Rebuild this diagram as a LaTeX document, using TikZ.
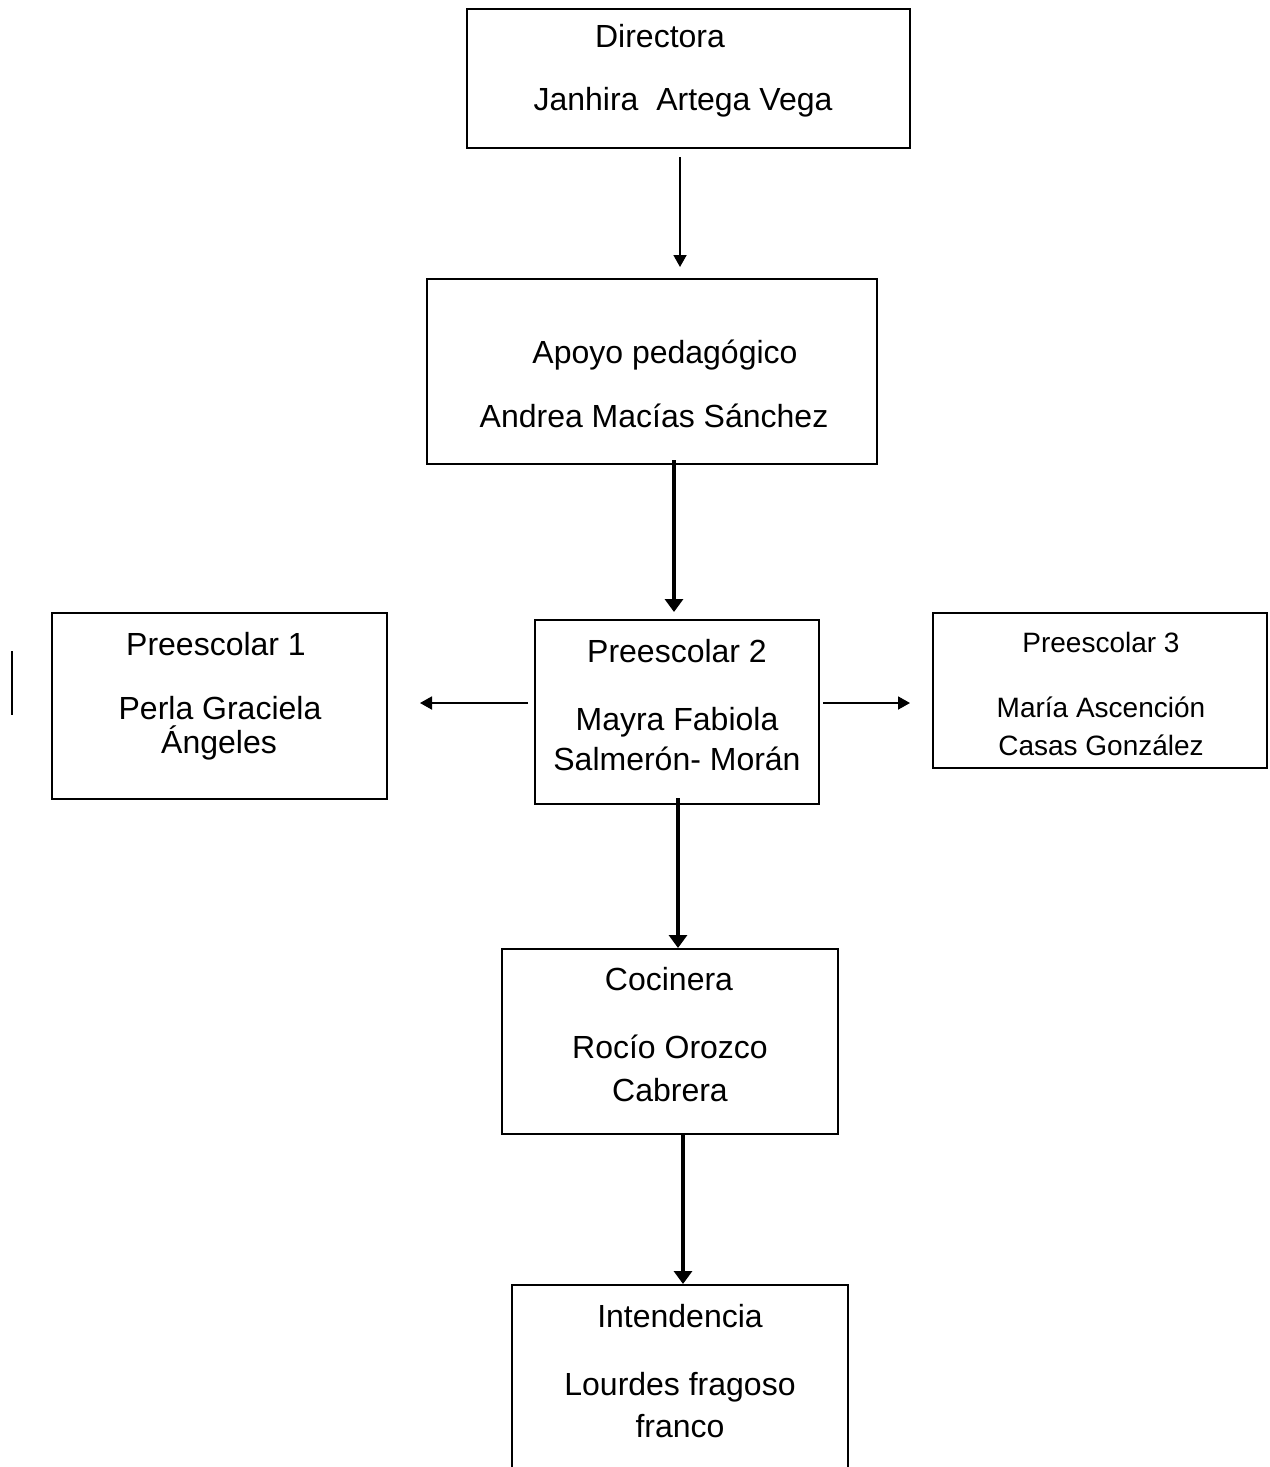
\documentclass[tikz,border=0pt]{standalone}
\usepackage{fontspec}
\setmainfont{Liberation Sans}
\usetikzlibrary{arrows.meta}
\begin{document}
\begin{tikzpicture}[x=1pt,y=-1pt,
  box/.style={draw, line width=1.6pt, anchor=north west, inner sep=0pt, outer sep=0pt},
  txt/.style={anchor=base, inner sep=0pt, font=\fontsize{32}{38}\selectfont},
  txts/.style={anchor=base, inner sep=0pt, font=\fontsize{28}{34}\selectfont},
  thinarrow/.style={line width=1.8pt, -{Triangle[length=12pt,width=13pt]}},
  thickarrow/.style={line width=3.6pt, -{Triangle[length=13pt,width=18pt]}}]
\useasboundingbox (0,0) rectangle (1269,1467);
\clip (0,0) rectangle (1269,1467);
\fill[white] (0,0) rectangle (1269,1467);
% boxes
\node[box, minimum width=443pt, minimum height=139pt] (dir) at (467,9) {};
\node[box, minimum width=450pt, minimum height=185pt] (apo) at (427,279) {};
\node[box, minimum width=284pt, minimum height=184pt] (p2) at (535,620) {};
\node[box, minimum width=335pt, minimum height=186pt] (p1) at (52,613) {};
\node[box, minimum width=334pt, minimum height=155pt] (p3) at (933,613) {};
\node[box, minimum width=336pt, minimum height=185pt] (coc) at (502,949) {};
\node[box, minimum width=336pt, minimum height=250pt] (int) at (512,1285) {};
% texts
\node[txt] (t1) at (660,47) {Directora};
\node[txt] (t2) at (683,110) {Janhira\ \ Artega Vega};
\node[txt] (t3) at (665,363) {Apoyo pedagógico};
\node[txt] (t4) at (654,427) {Andrea Macías Sánchez};
\node[txt] (t5) at (216,655) {Preescolar 1};
\node[txt] (t6) at (220,719) {Perla Graciela};
\node[txt] (t7) at (219,753) {Ángeles};
\node[txt] (t8) at (677,662) {Preescolar 2};
\node[txt] (t9) at (677,730) {Mayra Fabiola};
\node[txt] (t10) at (677,770) {Salmerón- Morán};
\node[txts] (t11) at (1101,652) {Preescolar 3};
\node[txts] (t12) at (1101,717) {María Ascención};
\node[txts] (t13) at (1101,755) {Casas González};
\node[txt] (t14) at (669,990) {Cocinera};
\node[txt] (t15) at (670,1058) {Rocío Orozco};
\node[txt] (t16) at (670,1101) {Cabrera};
\node[txt] (t17) at (680,1327) {Intendencia};
\node[txt] (t18) at (680,1395) {Lourdes fragoso};
\node[txt] (t19) at (680,1437) {franco};
% stray vertical mark
\coordinate (m1) at (12,651);
\coordinate (m2) at (12,715);
\draw[line width=1.6pt] (m1) -- (m2);
% connectors
\coordinate (x1) at (680,0);
\coordinate (x2) at (674,0);
\coordinate (x3) at (678,0);
\coordinate (x4) at (683,0);
\coordinate (yh) at (0,703);
\draw[thinarrow, shorten <=9pt, shorten >=12pt] (x1 |- dir.south) -- (x1 |- apo.north);
\draw[thickarrow, shorten <=-4pt, shorten >=8pt] (x2 |- apo.south) -- (x2 |- p2.north);
\draw[thickarrow, shorten <=-6pt, shorten >=1pt] (x3 |- p2.south) -- (x3 |- coc.north);
\draw[thickarrow, shorten >=1pt] (x4 |- coc.south) -- (x4 |- int.north);
\draw[thinarrow, shorten <=7pt, shorten >=33pt] (p2.west |- yh) -- (p1.east |- yh);
\draw[thinarrow, shorten <=4pt, shorten >=23pt] (p2.east |- yh) -- (p3.west |- yh);
\end{tikzpicture}
\end{document}
